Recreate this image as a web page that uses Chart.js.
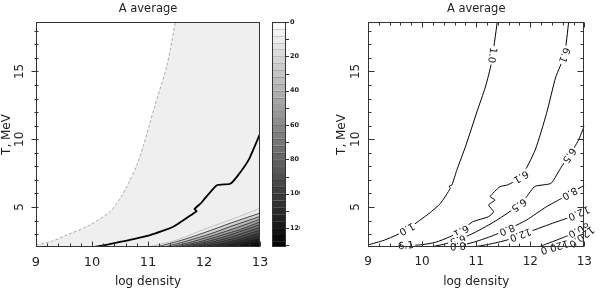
<!DOCTYPE html>
<html lang="en">
<head>
<meta charset="UTF-8">
<title>A average</title>
<script src="https://cdn.jsdelivr.net/npm/chart.js"></script>
<style>
    body { margin: 0; background: #fff; }
    .wrap { position: relative; width: 600px; height: 290px; }
    .panel { position: absolute; top: 0; width: 300px; height: 290px; }
    #left { left: 0; }
    #right { left: 300px; }
</style>
</head>
<body>
<div class="wrap">
    <div class="panel" id="left"><canvas id="leftChart" width="300" height="290"></canvas></div>
    <div class="panel" id="right"><canvas id="rightChart" width="300" height="290"></canvas></div>
</div>
<script>
// axes
const xMin = 9, xMax = 13, yMin = 2.05, yMax = 18.65;
const xTicks = [9, 10, 11, 12, 13];
const yTicks = [5, 10, 15];

// colour bar (left panel)
const cbMin = 0, cbMax = 131;
const cbLabels = [0, 20, 40, 60, 80, 100, 120];
const cbMinor = [10, 30, 50, 70, 90, 110, 130];
const cbLevels = [0, 4, 8, 12, 16, 20, 24, 28, 32, 36, 40, 44, 48, 52, 56, 60, 64, 68,
    72, 76, 80, 84, 88, 92, 96, 100, 104, 108, 112, 116, 120, 124, 128, 131];

// left panel: filled contours
const leftEdge = [[9, 2.2], [9.3, 2.5], [9.55, 2.93], [9.96, 3.67], [10.32, 4.65], [10.5, 5.63], [10.62, 6.48],
    [10.65, 6.73], [10.8, 8.08], [10.92, 9.55], [10.98, 10.41], [11.15, 12.86], [11.33, 15.3], [11.49, 18.65]];
const leftThick = [[10.05, 2.05], [10.5, 2.42], [11.04, 2.93], [11.45, 3.54], [11.81, 4.53], [11.87, 4.7],
    [11.83, 4.85], [11.95, 5.3], [12.02, 5.65], [12.23, 6.61], [12.47, 6.72], [12.6, 7.3], [12.8, 8.5], [13, 10.4]];
const leftBands = [
    [[11.0, 2.05], [11.5, 2.55], [12.0, 3.35], [12.5, 4.1], [13, 4.9]],
    [[11.15, 2.05], [11.6, 2.55], [12.0, 3.1], [12.5, 3.85], [13, 4.55]],
    [[11.3, 2.05], [11.7, 2.5], [12.1, 3.0], [12.5, 3.6], [13, 4.3]],
    [[11.4, 2.05], [11.8, 2.45], [12.2, 2.95], [12.6, 3.5], [13, 4.1]],
    [[11.5, 2.05], [11.9, 2.42], [12.3, 2.9], [12.65, 3.35], [13, 3.9]],
    [[11.6, 2.05], [12.0, 2.4], [12.4, 2.85], [13, 3.7]],
    [[11.7, 2.05], [12.1, 2.38], [12.5, 2.8], [13, 3.5]],
    [[11.8, 2.05], [12.2, 2.35], [12.6, 2.75], [13, 3.3]],
    [[11.95, 2.05], [12.3, 2.3], [12.7, 2.7], [13, 3.1]],
    [[12.1, 2.05], [12.45, 2.3], [12.75, 2.6], [13, 2.9]],
    [[12.25, 2.05], [12.6, 2.3], [13, 2.7]],
    [[12.45, 2.05], [12.75, 2.28], [13, 2.5]],
    [[12.65, 2.05], [13, 2.3]]
];
const bandLevels = [10, 24, 36, 48, 60, 70, 80, 90, 100, 108, 116, 124, 131];

// right panel: contour lines
const rightLevels = ['1.0', '6.1', '6.5', '8.0', '12.0', '80.0', '120.0'];
const r10 = [[9, 2.2], [9.3, 2.55], [9.53, 2.94], [9.75, 3.42], [9.95, 4.0], [10.13, 4.53], [10.34, 5.27],
    [10.52, 6.38], [10.5, 6.55], [10.55, 6.62], [10.64, 7.7], [10.81, 9.55], [11.02, 12.1], [11.17, 13.85],
    [11.28, 15.6], [11.39, 18.65]];
const r61 = [[9.4, 2.05], [9.7, 2.15], [10.0, 2.22], [10.25, 2.4], [10.5, 2.78], [10.72, 3.23], [10.93, 3.9],
    [11.23, 4.29], [11.32, 4.66], [11.23, 5.15], [11.35, 5.52], [11.26, 5.76], [11.44, 6.5], [11.58, 6.63],
    [11.83, 7.22], [12.09, 9.2], [12.3, 11.9], [12.47, 14.57], [12.63, 16.2], [12.71, 18.65]];
const r65 = [[10.15, 2.05], [10.4, 2.25], [10.66, 2.57], [10.99, 3.15], [11.35, 3.95], [11.58, 4.55],
    [11.79, 5.14], [11.93, 5.75], [12.02, 6.24], [12.09, 6.53], [12.35, 6.7], [12.41, 6.85], [12.56, 7.86],
    [12.72, 8.8], [12.89, 9.92], [13, 11.0]];
const r80 = [[10.45, 2.05], [10.66, 2.12], [10.95, 2.4], [11.25, 2.8], [11.57, 3.32], [11.93, 4.04],
    [12.29, 5.0], [12.56, 5.6], [12.73, 6.0], [13, 6.6]];
const r120 = [[10.95, 2.05], [11.3, 2.3], [11.6, 2.6], [11.9, 3.05], [12.41, 3.8], [12.7, 4.2], [12.9, 4.55], [13, 5.0]];
const r800 = [[12.15, 2.05], [12.41, 2.44], [12.72, 2.93], [12.9, 3.3], [13, 3.85]];
const r1200 = [[12.45, 2.05], [12.7, 2.35], [12.9, 2.65], [13, 2.95]];
const rightLines = [r10, r61, r65, r80, r120, r800, r1200];
// contour labels: [level index, x, y, upright]
const rightLabels = [
    [0, 9.72, 3.38], [0, 11.3, 16.2],
    [1, 9.7, 2.15, true], [1, 10.72, 3.23], [1, 11.83, 7.22], [1, 12.63, 16.2],
    [2, 10.66, 2.57], [2, 11.79, 5.14], [2, 12.72, 8.8],
    [3, 10.66, 2.12], [3, 11.57, 3.32], [3, 12.73, 6.0],
    [4, 11.82, 2.95], [4, 12.9, 4.55],
    [5, 12.9, 3.3],
    [6, 12.95, 2.8], [6, 12.45, 2.05]
];

const FONT = '"DejaVu Sans", sans-serif';
const INK = '#222';

function pts(a) { return a.map(p => ({ x: p[0], y: p[1] })); }
function shade(v) { const g = Math.round(255 * (1 - v / cbMax)); return `rgb(${g},${g},${g})`; }

function drawFrame(chart, cfg) {
    const { ctx, chartArea: a, scales: { x, y } } = chart;
    const L = Math.round(a.left) + 0.5, R = Math.round(a.right) - 0.5;
    const T = Math.round(a.top) + 0.5, B = Math.round(a.bottom) - 0.5;
    ctx.save();
    ctx.strokeStyle = '#333';
    ctx.lineWidth = 1;
    ctx.strokeRect(L, T, R - L, B - T);
    ctx.beginPath();
    for (let i = 0; i <= 20; i++) {
        const px = Math.round(x.getPixelForValue(xMin + i * 0.2)) + 0.5;
        const len = i % 5 === 0 ? 5 : 3;
        ctx.moveTo(px, B); ctx.lineTo(px, B - len);
        if (cfg.mirror) { ctx.moveTo(px, T); ctx.lineTo(px, T + len); }
    }
    for (let v = 3; v <= 18; v++) {
        const py = Math.round(y.getPixelForValue(v)) + 0.5;
        const len = v % 5 === 0 ? 6 : 3;
        if (cfg.cross) { ctx.moveTo(L - len + 1, py); ctx.lineTo(L + 2, py); }
        else { ctx.moveTo(L, py); ctx.lineTo(L + len, py); }
        if (cfg.mirror) { ctx.moveTo(R, py); ctx.lineTo(R - len, py); }
    }
    ctx.stroke();

    ctx.fillStyle = INK;
    ctx.textAlign = 'center';
    ctx.textBaseline = 'middle';
    ctx.font = `${cfg.tickSize}px ${FONT}`;
    yTicks.forEach(v => {
        ctx.save();
        ctx.translate(cfg.yLabelX, y.getPixelForValue(v));
        ctx.rotate(-Math.PI / 2);
        ctx.fillText(String(v), 0, 0);
        ctx.restore();
    });
    ctx.font = `12px ${FONT}`;
    ctx.save();
    ctx.translate(cfg.yTitleX, (a.top + a.bottom) / 2);
    ctx.rotate(-Math.PI / 2);
    ctx.fillText('T, MeV', 0, 0);
    ctx.restore();
    ctx.fillText('log density', (a.left + a.right) / 2, 282);
    ctx.textBaseline = 'alphabetic';
    ctx.font = `11.5px ${FONT}`;
    ctx.fillText('A average', (a.left + a.right) / 2, 12);
    ctx.restore();
}

function drawColorBar(chart) {
    const { ctx, scales: { cb } } = chart;
    const x0 = 272, w = 14;
    ctx.save();
    for (let i = 0; i < cbLevels.length - 1; i++) {
        const y0 = cb.getPixelForValue(cbLevels[i]), y1 = cb.getPixelForValue(cbLevels[i + 1]);
        ctx.fillStyle = shade((cbLevels[i] + cbLevels[i + 1]) / 2);
        ctx.fillRect(x0, y0, w, y1 - y0);
        ctx.strokeStyle = 'rgba(0,0,0,0.15)';
        ctx.beginPath(); ctx.moveTo(x0, Math.round(y0) + 0.5); ctx.lineTo(x0 + w, Math.round(y0) + 0.5); ctx.stroke();
    }
    const top = Math.round(cb.getPixelForValue(cbMin)) + 0.5, bot = Math.round(cb.getPixelForValue(cbMax)) - 0.5;
    ctx.strokeStyle = '#333';
    ctx.strokeRect(x0 + 0.5, top, w - 1, bot - top);
    ctx.beginPath();
    cbLabels.concat(cbMinor).forEach(v => {
        const py = Math.round(cb.getPixelForValue(v)) + 0.5;
        ctx.moveTo(x0 + w, py); ctx.lineTo(x0 + w + 3, py);
    });
    ctx.stroke();
    ctx.fillStyle = INK;
    ctx.font = `bold 6.5px ${FONT}`;
    ctx.textAlign = 'left';
    ctx.textBaseline = 'middle';
    cbLabels.forEach(v => ctx.fillText(String(v), x0 + w + 4, cb.getPixelForValue(v)));
    ctx.restore();
}

function drawContourLabels(chart) {
    const { ctx, scales: { x, y } } = chart;
    ctx.save();
    ctx.font = `10px ${FONT}`;
    ctx.textAlign = 'center';
    ctx.textBaseline = 'middle';
    rightLabels.forEach(([k, lx, ly, upright]) => {
        const line = rightLines[k].map(p => [x.getPixelForValue(p[0]), y.getPixelForValue(p[1])]);
        const px = x.getPixelForValue(lx), py = y.getPixelForValue(ly);
        let best = 0, bestD = Infinity;
        for (let i = 0; i < line.length - 1; i++) {
            const [ax, ay] = line[i], [bx, by] = line[i + 1];
            const dx = bx - ax, dy = by - ay;
            const t = Math.max(0, Math.min(1, ((px - ax) * dx + (py - ay) * dy) / (dx * dx + dy * dy)));
            const d = Math.hypot(ax + t * dx - px, ay + t * dy - py);
            if (d < bestD) { bestD = d; best = i; }
        }
        const [ax, ay] = line[best], [bx, by] = line[best + 1];
        let ang = Math.atan2(by - ay, bx - ax);
        if (!upright) ang += Math.PI;
        const text = rightLevels[k];
        const tw = ctx.measureText(text).width + 3;
        ctx.save();
        ctx.translate(px, py);
        ctx.rotate(ang);
        ctx.fillStyle = '#fff';
        ctx.fillRect(-tw / 2, -4.5, tw, 9);
        ctx.fillStyle = '#111';
        ctx.fillText(text, 0, 0.5);
        ctx.restore();
    });
    ctx.restore();
}

function baseScales(xTickSize, yWidth) {
    return {
        x: {
            type: 'linear', min: xMin, max: xMax,
            afterBuildTicks: s => { s.ticks = xTicks.map(v => ({ value: v })); },
            afterFit: s => { s.height = 43; },
            grid: { display: false, drawTicks: false },
            border: { display: false },
            ticks: { padding: 8, color: INK, font: { family: FONT, size: xTickSize }, maxRotation: 0, autoSkip: false }
        },
        y: {
            type: 'linear', min: yMin, max: yMax,
            afterBuildTicks: s => { s.ticks = yTicks.map(v => ({ value: v })); },
            afterFit: s => { s.width = yWidth; },
            grid: { display: false, drawTicks: false },
            border: { display: false },
            ticks: { display: false }
        }
    };
}

// ---- left chart: filled contours ----
const leftDatasets = [{
    data: pts(leftEdge), borderColor: '#aaa', borderWidth: 1, borderDash: [3, 2],
    backgroundColor: '#fff', fill: 'end', order: 50, tension: 0.3
}];
leftBands.forEach((b, i) => leftDatasets.push({
    data: pts(b), borderColor: i === 0 ? '#b8b8b8' : '#222', borderWidth: 0.8,
    backgroundColor: shade(bandLevels[i]), fill: 'start', order: 40 - i, tension: 0.3
}));
leftDatasets.push({ data: pts(leftThick), borderColor: '#000', borderWidth: 1.8, fill: false, order: 0, tension: 0.15 });

const leftScales = baseScales(13, 36);
leftScales.cb = {
    type: 'linear', position: 'right', min: cbMin, max: cbMax, reverse: true,
    afterFit: s => { s.width = 40; },
    grid: { display: false, drawTicks: false }, border: { display: false }, ticks: { display: false }
};

new Chart(document.getElementById('leftChart'), {
    type: 'line',
    data: { datasets: leftDatasets },
    options: {
        responsive: false, animation: false,
        layout: { padding: { top: 22, left: 0, right: 0, bottom: 0 } },
        elements: { point: { radius: 0 }, line: { tension: 0 } },
        plugins: { legend: { display: false }, tooltip: { enabled: false } },
        scales: leftScales
    },
    plugins: [{
        id: 'leftDecor',
        beforeDatasetsDraw(chart) {
            const { ctx, chartArea: a } = chart;
            ctx.save(); ctx.fillStyle = '#efefef';
            ctx.fillRect(a.left, a.top, a.right - a.left, a.bottom - a.top);
            ctx.restore();
        },
        afterDatasetsDraw(chart) {
            drawFrame(chart, { cross: true, mirror: false, tickSize: 12, yLabelX: 20, yTitleX: 7 });
            drawColorBar(chart);
        }
    }]
});

// ---- right chart: labelled contour lines ----
new Chart(document.getElementById('rightChart'), {
    type: 'line',
    data: {
        datasets: rightLines.map(l => ({ data: pts(l), borderColor: '#000', borderWidth: 1, fill: false, tension: 0.2 }))
    },
    options: {
        responsive: false, animation: false,
        layout: { padding: { top: 22, left: 0, right: 7, bottom: 0 } },
        elements: { point: { radius: 0 }, line: { tension: 0 } },
        plugins: { legend: { display: false }, tooltip: { enabled: false } },
        scales: baseScales(12, 68)
    },
    plugins: [{
        id: 'rightDecor',
        afterDatasetsDraw(chart) {
            drawContourLabels(chart);
            drawFrame(chart, { cross: false, mirror: true, tickSize: 12, yLabelX: 56, yTitleX: 42 });
        }
    }]
});
</script>
</body>
</html>
